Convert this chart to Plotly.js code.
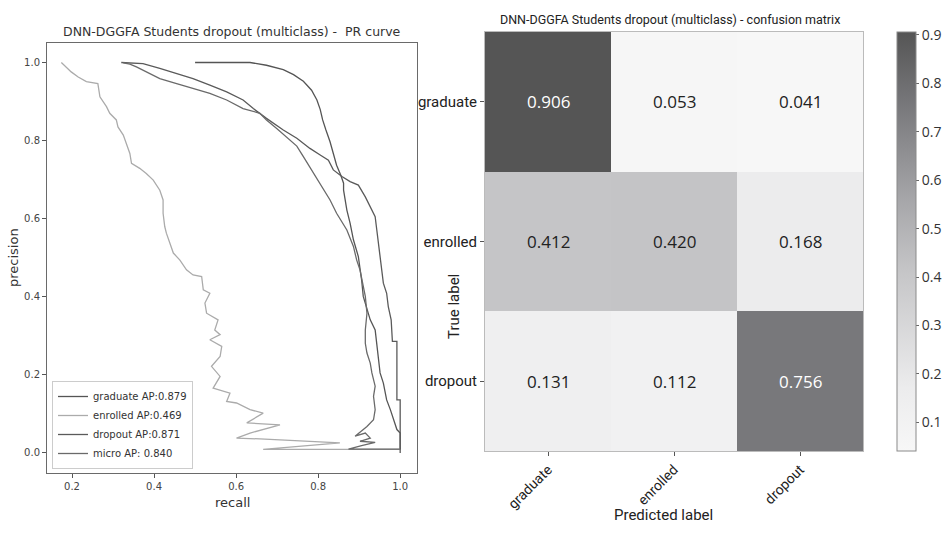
<!DOCTYPE html>
<html>
<head>
<meta charset="utf-8">
<script src="https://cdn.plot.ly/plotly-3.0.1.min.js"></script>
<style>html,body{margin:0;padding:0;background:#fff;}#chart{width:945px;height:543px;}</style>
</head>
<body>
<div id="chart"></div>
<script>
// ---------- PR curve data ----------
const gradRecall = [0.50,0.634,0.674,0.715,0.740,0.764,0.784,0.797,0.805,0.811,0.819,0.829,0.837,0.845,0.855,0.862,0.862,0.870,0.878,0.886,0.898,0.902,0.906,0.910,0.919,0.927,0.939,0.943,0.947,0.951,0.959,0.967,0.976,0.984,0.992,1.0,1.0];
const gradPrecision = [1.0,1.0,0.993,0.982,0.969,0.952,0.929,0.904,0.880,0.853,0.827,0.797,0.767,0.737,0.712,0.691,0.673,0.622,0.588,0.546,0.503,0.477,0.443,0.401,0.367,0.341,0.315,0.273,0.239,0.205,0.179,0.136,0.111,0.085,0.060,0.051,0.009];

const enrRecall = [0.174,0.186,0.198,0.215,0.235,0.263,0.268,0.284,0.292,0.308,0.312,0.325,0.333,0.341,0.345,0.365,0.381,0.398,0.414,0.422,0.422,0.426,0.430,0.438,0.447,0.463,0.479,0.495,0.516,0.520,0.536,0.524,0.528,0.556,0.548,0.561,0.536,0.565,0.561,0.540,0.561,0.544,0.585,0.577,0.601,0.634,0.666,0.626,0.707,0.634,0.601,0.658,0.756,0.853,0.666,1.0];
const enrPrecision = [1.0,0.989,0.976,0.963,0.951,0.946,0.912,0.887,0.870,0.853,0.835,0.814,0.793,0.767,0.742,0.729,0.716,0.699,0.673,0.648,0.614,0.580,0.563,0.537,0.512,0.494,0.469,0.456,0.452,0.418,0.409,0.384,0.358,0.341,0.315,0.303,0.290,0.273,0.247,0.222,0.196,0.166,0.153,0.132,0.128,0.111,0.102,0.077,0.072,0.051,0.038,0.036,0.030,0.026,0.009,0.009];

const dropRecall = [0.320,0.373,0.414,0.455,0.495,0.536,0.577,0.617,0.642,0.674,0.715,0.748,0.780,0.805,0.825,0.837,0.858,0.878,0.898,0.915,0.927,0.939,0.943,0.947,0.951,0.955,0.959,0.967,0.971,0.978,0.980,0.981,0.992,0.992,1.0,1.0];
const dropPrecision = [1.0,0.997,0.985,0.972,0.959,0.942,0.925,0.904,0.882,0.857,0.827,0.806,0.780,0.763,0.750,0.725,0.708,0.695,0.686,0.656,0.631,0.605,0.571,0.537,0.512,0.469,0.435,0.409,0.375,0.341,0.298,0.286,0.286,0.136,0.136,0.0];

const microRecall = [0.325,0.341,0.357,0.373,0.414,0.455,0.495,0.536,0.577,0.617,0.658,0.674,0.699,0.723,0.748,0.764,0.784,0.805,0.829,0.845,0.870,0.886,0.894,0.902,0.909,0.915,0.919,0.915,0.915,0.919,0.927,0.931,0.939,0.935,0.939,0.935,0.919,0.898,0.890,0.915,0.927,0.902,0.939,0.906,0.874,1.0];
const microPrecision = [0.999,0.996,0.989,0.980,0.959,0.946,0.934,0.921,0.904,0.882,0.870,0.853,0.831,0.808,0.786,0.759,0.725,0.691,0.648,0.614,0.571,0.529,0.494,0.469,0.435,0.401,0.358,0.315,0.281,0.256,0.230,0.205,0.171,0.145,0.111,0.085,0.068,0.051,0.043,0.051,0.038,0.030,0.027,0.019,0.010,0.010];

const prNames = ['graduate AP:0.879','enrolled AP:0.469','dropout AP:0.871','micro AP: 0.840'];
const prTicksX = [0.2,0.4,0.6,0.8,1.0];
const prTicksY = [0.0,0.2,0.4,0.6,0.8,1.0];

// ---------- Confusion matrix data ----------
const classes = ['graduate','enrolled','dropout'];
const cmValues = [
  [0.906,0.053,0.041],
  [0.412,0.420,0.168],
  [0.131,0.112,0.756]
];
const cbTicks = [0.1,0.2,0.3,0.4,0.5,0.6,0.7,0.8,0.9];

const W = 945, H = 543;
const px = v => v / W, py = v => 1 - v / H;

const lineW = 1.3;
const traces = [
  {x: gradRecall, y: gradPrecision, name: prNames[0], line:{color:'#555555', width:lineW}},
  {x: enrRecall, y: enrPrecision, name: prNames[1], line:{color:'#ababab', width:lineW}},
  {x: dropRecall, y: dropPrecision, name: prNames[2], line:{color:'#5a5a5a', width:lineW}},
  {x: microRecall, y: microPrecision, name: prNames[3], line:{color:'#6a6a6a', width:lineW}}
].map(t => Object.assign({type:'scatter', mode:'lines', xaxis:'x', yaxis:'y', hoverinfo:'skip'}, t));

traces.push({
  type:'heatmap', xaxis:'x2', yaxis:'y2', showlegend:false,
  x: classes, y: classes, z: cmValues,
  colorscale: [[0,'#f7f7f7'],[0.15,'#ececed'],[0.43,'#c5c5c7'],[0.6,'#a6a6a9'],[0.83,'#77777a'],[1,'#555555']],
  colorbar: {
    thickness: 19, thicknessmode:'pixels',
    len: 419/H, lenmode:'fraction',
    x: px(897), xanchor:'left', y: py(32), yanchor:'top',
    xpad:0, ypad:0,
    outlinecolor:'#8a8a8a', outlinewidth:1,
    tickvals: cbTicks, ticks:'outside', ticklen:3, tickcolor:'#666',
    tickfont:{family:'Open Sans, sans-serif', size:14, color:'#333'}
  },
  hoverinfo:'skip'
});

const annotations = [];
cmValues.forEach((row, i) => row.forEach((v, j) => {
  annotations.push({
    xref:'x2', yref:'y2', x: classes[j], y: classes[i],
    text: v.toFixed(3), showarrow:false,
    font:{family:'Open Sans, sans-serif', size:17, color: v > 0.6 ? '#ffffff' : '#222222'}
  });
}));

annotations.push(
  {xref:'paper', yref:'paper', x:px(232), y:py(32), text:'DNN-DGGFA Students dropout (multiclass) -  PR curve',
   showarrow:false, font:{family:'DejaVu Sans, sans-serif', size:12.5, color:'#333'}, xanchor:'center', yanchor:'middle'},
  {xref:'paper', yref:'paper', x:px(670), y:py(19), text:'DNN-DGGFA Students dropout (multiclass) - confusion matrix',
   showarrow:false, font:{family:'Roboto, sans-serif', size:12.5, color:'#222'}, xanchor:'center', yanchor:'middle'},
  {xref:'paper', yref:'paper', x:px(13), y:py(258), text:'precision', textangle:-90,
   showarrow:false, font:{family:'DejaVu Sans, sans-serif', size:13, color:'#333'}, xanchor:'center', yanchor:'middle'},
  {xref:'paper', yref:'paper', x:px(232), y:py(502), text:'recall',
   showarrow:false, font:{family:'DejaVu Sans, sans-serif', size:13, color:'#333'}, xanchor:'center', yanchor:'middle'},
  {xref:'paper', yref:'paper', x:px(454), y:py(307), text:'True label', textangle:-90,
   showarrow:false, font:{family:'Roboto, sans-serif', size:15, color:'#222'}, xanchor:'center', yanchor:'middle'},
  {xref:'paper', yref:'paper', x:px(663), y:py(515), text:'Predicted label',
   showarrow:false, font:{family:'Roboto, sans-serif', size:15, color:'#222'}, xanchor:'center', yanchor:'middle'}
);

const layout = {
  width: W, height: H,
  margin:{l:0,r:0,t:0,b:0},
  paper_bgcolor:'#fff', plot_bgcolor:'#fff',
  showlegend:true,
  legend:{
    x: px(52), y: py(381), xanchor:'left', yanchor:'top',
    bgcolor:'rgba(255,255,255,0.9)', bordercolor:'#cccccc', borderwidth:1,
    font:{family:'DejaVu Sans, sans-serif', size:10, color:'#333'},
    itemwidth:30, tracegroupgap:0
  },
  xaxis:{
    domain:[px(47), px(417)], anchor:'y',
    range:[0.139, 1.041], tickvals: prTicksX, ticktext: prTicksX.map(v=>v.toFixed(1)),
    showgrid:false, zeroline:false, showline:true, mirror:true, linecolor:'#6a6a6a', linewidth:1,
    ticks:'outside', ticklen:4, tickcolor:'#555',
    tickfont:{family:'DejaVu Sans, sans-serif', size:10, color:'#444'}
  },
  yaxis:{
    domain:[py(472.5), py(43)], anchor:'x',
    range:[-0.05, 1.05], tickvals: prTicksY, ticktext: prTicksY.map(v=>v.toFixed(1)),
    showgrid:false, zeroline:false, showline:true, mirror:true, linecolor:'#6a6a6a', linewidth:1,
    ticks:'outside', ticklen:4, tickcolor:'#555',
    tickfont:{family:'DejaVu Sans, sans-serif', size:10, color:'#444'}
  },
  xaxis2:{
    domain:[px(485), px(863)], anchor:'y2',
    showgrid:false, zeroline:false, showline:true, mirror:true, linecolor:'#bbbbbb', linewidth:1,
    ticks:'outside', ticklen:4, tickcolor:'#555', tickangle:-45,
    tickfont:{family:'Roboto, sans-serif', size:14, color:'#222'}
  },
  yaxis2:{
    domain:[py(451), py(32)], anchor:'x2', autorange:'reversed',
    showgrid:false, zeroline:false, showline:true, mirror:true, linecolor:'#bbbbbb', linewidth:1,
    ticks:'outside', ticklen:4, tickcolor:'#555',
    tickfont:{family:'Roboto, sans-serif', size:15, color:'#222'}
  },
  annotations: annotations
};

Plotly.newPlot('chart', traces, layout, {staticPlot:true, displayModeBar:false});
</script>
</body>
</html>
